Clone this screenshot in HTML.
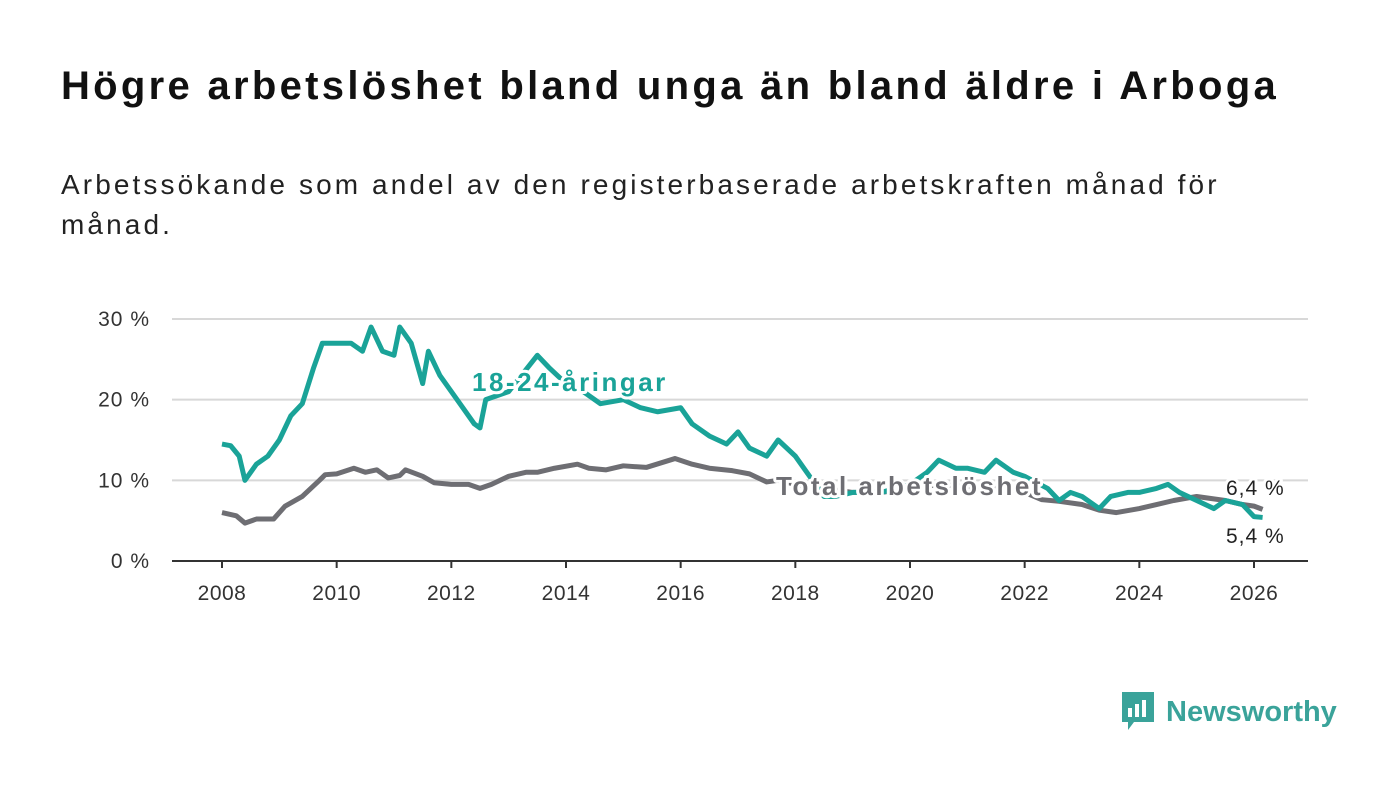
<!DOCTYPE html>
<html><head><meta charset="utf-8"><style>
body{margin:0;width:1400px;height:794px;background:#fff;font-family:"Liberation Sans","DejaVu Sans",sans-serif;overflow:hidden;position:relative}
h1{position:absolute;left:61px;top:64px;margin:0;font-size:40px;letter-spacing:3.3px;font-weight:bold;color:#111;white-space:nowrap}
p.sub{position:absolute;left:61px;top:165px;margin:0;font-size:28px;letter-spacing:3.1px;line-height:40px;color:#222;white-space:nowrap}
svg{position:absolute;left:0;top:0}
.logo{position:absolute;left:1120px;top:690px;display:flex;align-items:center;color:#3aa39a;font-size:29px;font-weight:bold}
</style></head><body>
<h1>Högre arbetslöshet bland unga än bland äldre i Arboga</h1>
<p class="sub">Arbetssökande som andel av den registerbaserade arbetskraften månad för<br>månad.</p>
<svg id="chart" width="1400" height="794"></svg>
<div class="logo">
<svg width="36" height="44" style="position:static;margin-right:10px"><path d="M2 2h32v30H14l-6 8v-8H2z" fill="#3aa39a"/><rect x="8" y="18" width="4" height="9" fill="#fff"/><rect x="15" y="14" width="4" height="13" fill="#fff"/><rect x="22" y="10" width="4" height="17" fill="#fff"/></svg>
<span>Newsworthy</span></div>
<script>
const youthX=[2008,2008.15,2008.3,2008.4,2008.6,2008.8,2009,2009.2,2009.4,2009.6,2009.75,2010,2010.25,2010.45,2010.6,2010.8,2011,2011.1,2011.3,2011.5,2011.6,2011.8,2012,2012.2,2012.4,2012.5,2012.6,2013,2013.5,2013.7,2014,2014.3,2014.6,2015,2015.3,2015.6,2016,2016.2,2016.5,2016.8,2017,2017.2,2017.5,2017.7,2018,2018.2,2018.5,2018.7,2019,2019.5,2020,2020.3,2020.5,2020.8,2021,2021.3,2021.5,2021.8,2022,2022.4,2022.6,2022.8,2023,2023.3,2023.5,2023.8,2024,2024.3,2024.5,2024.7,2025,2025.3,2025.5,2025.8,2026,2026.15];
const youthV=[14.5,14.3,13,10,12,13,15,18,19.5,24,27,27,27,26,29,26,25.5,29,27,22,26,23,21,19,17,16.5,20,21,25.5,24,22,21,19.5,20,19,18.5,19,17,15.5,14.5,16,14,13,15,13,11,8,8,8.5,8.5,9.5,11,12.5,11.5,11.5,11,12.5,11,10.5,9,7.5,8.5,8,6.5,8,8.5,8.5,9,9.5,8.5,7.5,6.5,7.5,7,5.5,5.4];
const totalX=[2008,2008.25,2008.4,2008.6,2008.9,2009.1,2009.4,2009.7,2009.8,2010,2010.3,2010.5,2010.7,2010.9,2011.1,2011.2,2011.5,2011.7,2012,2012.3,2012.5,2012.7,2013,2013.3,2013.5,2013.8,2014.2,2014.4,2014.7,2015,2015.4,2015.9,2016.2,2016.5,2016.9,2017.2,2017.5,2017.7,2018,2018.5,2019,2019.5,2020,2020.5,2021,2021.5,2022,2022.3,2022.6,2023,2023.3,2023.6,2024,2024.3,2024.6,2025,2025.5,2025.8,2026,2026.15];
const totalV=[6,5.6,4.7,5.2,5.2,6.8,8,10,10.7,10.8,11.5,11,11.3,10.3,10.6,11.3,10.5,9.7,9.5,9.5,9,9.5,10.5,11,11,11.5,12,11.5,11.3,11.8,11.6,12.7,12,11.5,11.2,10.8,9.8,10,9.5,9,8.5,8.5,9,9.5,9.2,9.2,8.5,7.6,7.4,7,6.3,6,6.5,7,7.5,8,7.5,7,6.8,6.4];
const yTicks=[0,10,20,30];
const xTicks=[2008,2010,2012,2014,2016,2018,2020,2022,2024,2026];
const X=v=>222+(v-2008)*(1254-222)/18, Y=v=>561-v*(561-319)/30;
const s=document.getElementById('chart'),NS='http://www.w3.org/2000/svg';
function mk(t,a,txt){const e=document.createElementNS(NS,t);for(const k in a)e.setAttribute(k,a[k]);if(txt!=null)e.textContent=txt;s.appendChild(e);return e;}
yTicks.forEach(t=>{
 if(t>0){const g=mk('line',{x1:172,x2:1308,y1:Y(t),y2:Y(t),stroke:'#d8d8d8','stroke-width':2});
 
 }
 const l=mk('text',{x:150,y:Y(t)+7,'text-anchor':'end','font-size':21,'letter-spacing':1,fill:'#333'},t+' %');
 
 
});
const ax=mk('line',{x1:172,x2:1308,y1:561,y2:561,stroke:'#333','stroke-width':2});


xTicks.forEach(t=>{
 const k=mk('line',{x1:X(t),x2:X(t),y1:561,y2:568,stroke:'#333','stroke-width':2});
 
 
 const l=mk('text',{x:X(t),y:600,'text-anchor':'middle','font-size':21,'letter-spacing':0.5,fill:'#333'},t);
 
 
});
function line(xs,vs,c,n){const p=mk('polyline',{points:xs.map((x,i)=>X(x)+','+Y(vs[i])).join(' '),fill:'none',stroke:c,'stroke-width':5,'stroke-linejoin':'round'});
 
 }
line(totalX,totalV,'#6e6e73','total-line');
line(youthX,youthV,'#1aa398','youth-line');
function lab(x,y,t,c,n,sz,w,ls){const e=mk('text',{x:x,y:y,'font-size':sz,'font-weight':w,'letter-spacing':ls,fill:c,stroke:'#fff','stroke-width':6,'paint-order':'stroke','stroke-linejoin':'round'},t);
 
 }
lab(472,391,'18-24-åringar','#1aa398','youth-label',26,'bold',2.5);
lab(776,495,'Total arbetslöshet','#6e6e73','total-label',26,'bold',2.5);
lab(1226,495,'6,4 %','#222','total-end-value',21,'normal',1);
lab(1226,543,'5,4 %','#222','youth-end-value',21,'normal',1);
</script>
</body></html>
